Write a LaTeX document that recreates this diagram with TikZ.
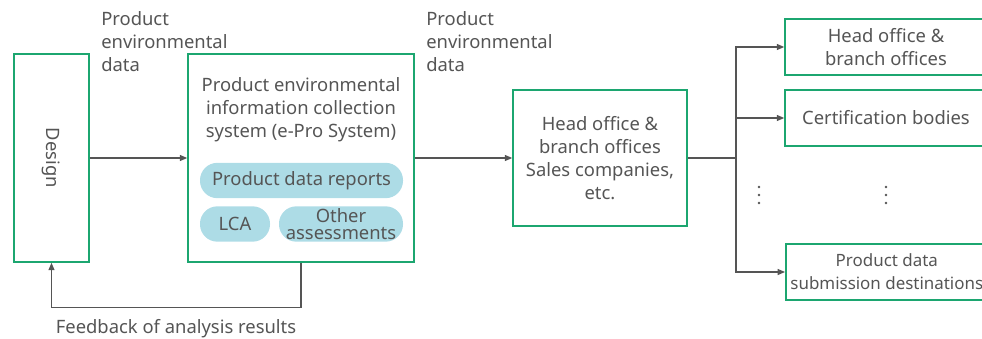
\documentclass[tikz,border=0pt]{standalone}
\usepackage{fontspec}
\setmainfont{Noto Sans}
\usetikzlibrary{positioning, arrows.meta}
\definecolor{boxgreen}{RGB}{28,166,112}
\definecolor{pillblue}{RGB}{173,220,230}
\definecolor{txtgray}{RGB}{85,85,85}

\begin{document}
\begin{tikzpicture}[x=0.75pt, y=-0.75pt,
    every node/.style={align=center, font=\fontsize{13.8}{17.2}\selectfont, text=txtgray, inner sep=0pt},
    gbox/.style={draw=boxgreen, line width=1.2pt},
    pill/.style={fill=pillblue, rounded corners=13pt, minimum height=26.5pt},
    flow/.style={draw=txtgray, line width=0.8pt, -{Triangle[length=5.5pt, width=4.5pt]}}]
    \useasboundingbox (0,0) rectangle (982,339);

    % left part
    \node[gbox, minimum width=56.25pt, minimum height=156pt] (design) at (51.5,158)
      {\rotatebox{-90}{Design}};
    \node[gbox, minimum width=169.5pt, minimum height=156pt] (epro) at (301,158) {};
    \node (eprotitle) at (301,110)
      {Product environmental\\ information collection\\ system (e-Pro System)};
    \node[pill, minimum width=152.25pt] (reports) at (301.5,180.5) {Product data reports};
    \node[pill, minimum width=52.5pt] (lca) at (235,224) {LCA};
    \node[pill, minimum width=93pt, font=\fontsize{13.8}{12.6}\selectfont] (other) at (341,224)
      {Other\\ assessments};

    % middle
    \node[gbox, minimum width=130.5pt, minimum height=102pt] (sales) at (600,158)
      {Head office \&\\ branch offices\\ Sales companies,\\ etc.};

    % destinations
    \node[gbox, minimum width=151.5pt, minimum height=42pt] (dhead) at (886,47)
      {Head office \&\\ branch offices};
    \node[gbox, minimum width=151.5pt, minimum height=42pt] (dcert) at (886,118)
      {Certification bodies};
    \node[gbox, anchor=west, minimum width=151.5pt, minimum height=42pt, inner xsep=2pt,
      font=\fontsize{12.7}{17.2}\selectfont] (dsub) at (785,272)
      {Product data\\ submission destinations};
    % continuation dots
    \foreach \dx in {759, 886}
      \foreach \dy in {187, 195, 203}
        \fill[txtgray] (\dx,\dy) circle (1.1pt);

    % labels
    \node[anchor=west, align=left] (lbla) at (101,42) {Product\\ environmental\\ data};
    \node[anchor=west, align=left] (lblb) at (426,42) {Product\\ environmental\\ data};
    \node (lblfb) at (176,329) {Feedback of analysis results};

    % connectors
    \draw[flow] (design) -- (epro);
    \draw[flow] (epro) -- (sales);
    \draw[flow] (epro.south) -- ++(0,45) -| (design.south);
    \coordinate (split) at (736,158);
    \draw[draw=txtgray, line width=0.8pt] (sales.east) -- (split);
    \draw[flow] (split) |- (dhead.west);
    \draw[flow] (split) |- (dcert.west);
    \draw[flow] (split) |- (dsub.west);
\end{tikzpicture}
\end{document}
